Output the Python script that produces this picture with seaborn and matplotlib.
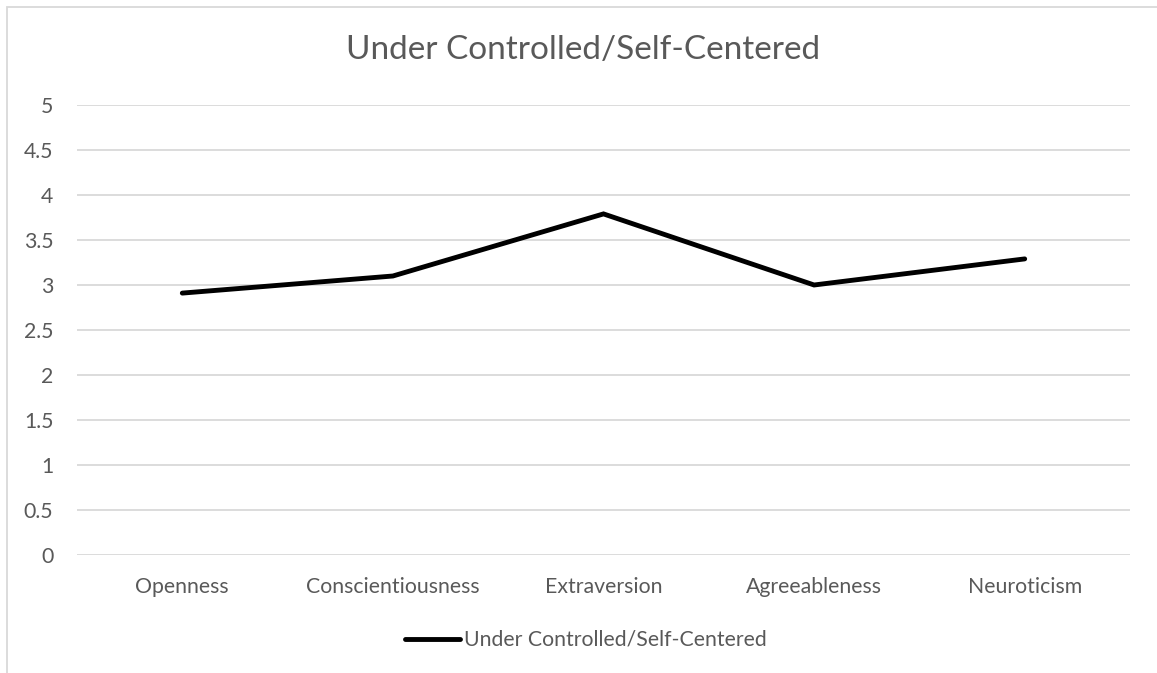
import numpy as np
import pandas as pd
import matplotlib
matplotlib.use('Agg')
import matplotlib.pyplot as plt
import matplotlib.patches as mpatches
import seaborn as sns

# ── Data ──────────────────────────────────────────────────────────────────────
traits = ['Openness', 'Conscientiousness', 'Extraversion', 'Agreeableness', 'Neuroticism']
scores = [2.91, 3.10, 3.79, 3.00, 3.29]
series_name = 'Under Controlled/Self-Centered'
y_ticks = [0, 0.5, 1, 1.5, 2, 2.5, 3, 3.5, 4, 4.5, 5]
y_tick_labels = ['0', '0.5', '1', '1.5', '2', '2.5', '3', '3.5', '4', '4.5', '5']

df = pd.DataFrame({'Trait': traits, 'Score': scores, 'Series': series_name})
df['Pos'] = range(len(traits))

# ── Style ─────────────────────────────────────────────────────────────────────
TEXT = '#595959'
GRID = '#D9D9D9'
TICK_FS = 15.3

sns.set_style('white')
plt.rcParams['font.family'] = ['Lato', 'DejaVu Sans']

W, H = 1157, 673
fig = plt.figure(figsize=(W / 100, H / 100), dpi=100)
fig.patch.set_facecolor('white')

# chart frame (cut off at right and bottom, like the source screenshot)
fig.add_artist(mpatches.Rectangle((7 / W, -0.1), 1.2, 1 - 7 / H + 0.1,
                                  transform=fig.transFigure, fill=False,
                                  edgecolor=GRID, linewidth=1.3))

ax = fig.add_axes([77 / W, 1 - 555 / H, (1130 - 77) / W, (555 - 105) / H])

sns.lineplot(data=df, x='Pos', y='Score', ax=ax, color='black',
             linewidth=3.5, label=series_name, legend=False,
             solid_capstyle='round', solid_joinstyle='miter')

ax.set_xlim(-0.5, len(traits) - 0.5)
ax.set_ylim(0, 5)
ax.set_xticks(df['Pos'])
ax.set_xticklabels(traits)
ax.set_yticks(y_ticks)
ax.set_yticklabels(y_tick_labels)
ax.set_xlabel('')
ax.set_ylabel('')

for y in y_ticks:
    ax.axhline(y, color=GRID, linewidth=1.3, zorder=0)
for s in ax.spines.values():
    s.set_visible(False)
ax.tick_params(axis='both', length=0, labelsize=TICK_FS, colors=TEXT)
ax.tick_params(axis='y', pad=17)
ax.tick_params(axis='x', pad=16)

fig.text(583 / W, 1 - 50 / H, series_name, ha='center', va='center',
         fontsize=24, color=TEXT)

handle = plt.Line2D([], [], color='black', linewidth=3.5, solid_capstyle='round')
fig.legend([handle], [series_name], loc='center', bbox_to_anchor=(586 / W, 1 - 640 / H),
           frameon=False, fontsize=TICK_FS, labelcolor=TEXT, handlelength=2.6,
           handletextpad=0.2)

fig.savefig('out.png', dpi=100, facecolor='white')
